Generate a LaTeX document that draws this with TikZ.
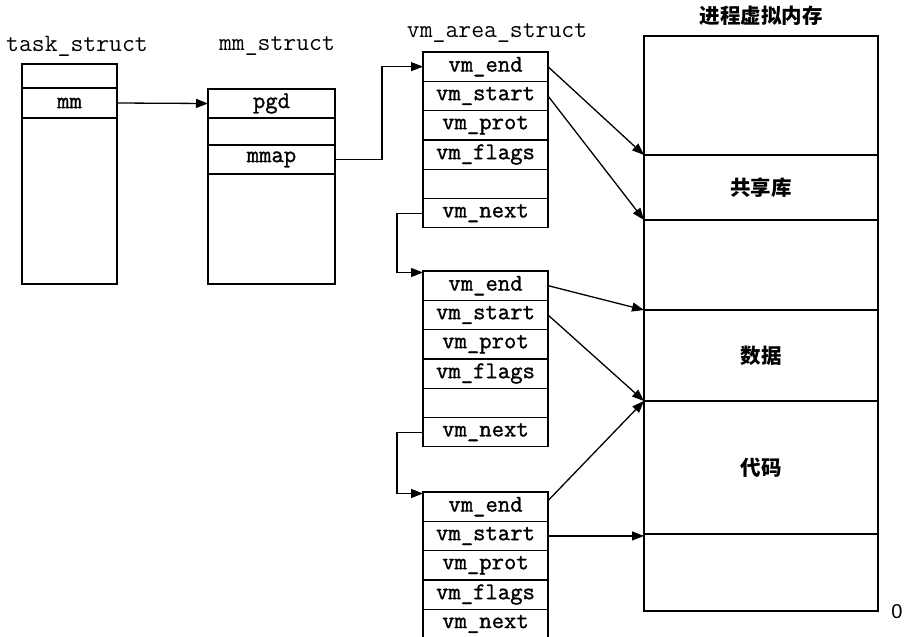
\documentclass[tikz,border=0pt]{standalone}
\usepackage{fontspec}
\newfontfamily\cjk{Noto Sans CJK SC}
\newfontfamily\digitfont{Liberation Sans}
\newfontfamily\fieldmono{Latin Modern Mono}[FakeBold=1.2]
\usetikzlibrary{arrows.meta,positioning}

\begin{document}
\begin{tikzpicture}[x=1pt, y=-1pt,
  box/.style={draw, line width=1.3pt, inner sep=0pt, outer sep=0pt, anchor=north,
    font=\fieldmono\fontsize{24}{24}\selectfont},
  fld/.style={box, minimum width=125pt, minimum height=29.3pt},
  tsk/.style={box, minimum width=95pt},
  mms/.style={box, minimum width=127pt},
  mem/.style={box, minimum width=234pt,
    font=\cjk\bfseries\fontsize{20.5}{20.5}\selectfont},
  lab/.style={font=\ttfamily\fontsize{25}{25}\selectfont},
  arr/.style={-{Triangle[length=12pt,width=9pt]}, line width=1.3pt}]
\useasboundingbox (0,0) rectangle (913,637);
% titles
\node[lab] (tasklab) at (77,46) {task\_struct};
\node[lab] (mmlab) at (277,46) {mm\_struct};
\node[lab] (vmalab) at (497,33) {vm\_area\_struct};
\node[font=\cjk\bfseries\fontsize{20.5}{20.5}\selectfont] (memlab) at (761,16) {进程虚拟内存};
% task_struct
\node[tsk, minimum height=24pt] (t0) at (69.5,64) {};
\node[tsk, minimum height=30pt, below=0pt of t0] (mm) {mm};
\node[tsk, minimum height=166pt, below=0pt of mm] (trest) {};
% mm_struct
\node[mms, minimum height=29pt] (pgd) at (271.5,89) {pgd};
\node[mms, minimum height=27pt, below=0pt of pgd] (mb) {};
\node[mms, minimum height=29pt, below=0pt of mb] (mmap) {mmap};
\node[mms, minimum height=110pt, below=0pt of mmap] (mrest) {};
% first vm_area_struct
\node[fld] (e1) at (485.5,52) {vm\_end};
\node[fld, below=0pt of e1] (s1) {vm\_start};
\node[fld, below=0pt of s1] (p1) {vm\_prot};
\node[fld, below=0pt of p1] (f1) {vm\_flags};
\node[fld, below=0pt of f1] (x1) {};
\node[fld, below=0pt of x1] (n1) {vm\_next};
% second vm_area_struct
\node[fld] (e2) at (485.5,271) {vm\_end};
\node[fld, below=0pt of e2] (s2) {vm\_start};
\node[fld, below=0pt of s2] (p2) {vm\_prot};
\node[fld, below=0pt of p2] (f2) {vm\_flags};
\node[fld, below=0pt of f2] (x2) {};
\node[fld, below=0pt of x2] (n2) {vm\_next};
% third vm_area_struct
\node[fld] (e3) at (485.5,492) {vm\_end};
\node[fld, below=0pt of e3] (s3) {vm\_start};
\node[fld, below=0pt of s3] (p3) {vm\_prot};
\node[fld, below=0pt of p3] (f3) {vm\_flags};
\node[fld, below=0pt of f3] (n3) {vm\_next};
% process virtual memory
\node[mem, minimum height=119pt] (m1) at (761,36) {};
\node[mem, minimum height=65pt, below=0pt of m1] (m2) {共享库};
\node[mem, minimum height=90pt, below=0pt of m2] (m3) {};
\node[mem, minimum height=91pt, below=0pt of m3] (m4) {数据};
\node[mem, minimum height=133pt, below=0pt of m4] (m5) {代码};
\node[mem, minimum height=77pt, below=0pt of m5] (m6) {};
\node[font=\digitfont\fontsize{20}{20}\selectfont] (zero) at (897,612) {0};
% pointers
\draw[arr] (mm.east) -- (pgd.west);
\draw[arr] (mmap.east) -- ++(47,0) |- (e1.west);
\draw[arr] (n1.west) -- ++(-26,0) |- ([yshift=-1.5pt]e2.north west);
\draw[arr] (n2.west) -- ++(-26,0) |- ([yshift=-1.5pt]e3.north west);
\draw[arr] (e1.east) -- (m2.north west);
\draw[arr] (s1.east) -- (m3.north west);
\draw[arr] (e2.east) -- (m4.north west);
\draw[arr] (s2.east) -- (m5.north west);
\draw[arr] ([yshift=6pt]e3.east) -- (m5.north west);
\draw[arr] (s3.east) -- (s3.east -| m6.north west);
\end{tikzpicture}
\end{document}
